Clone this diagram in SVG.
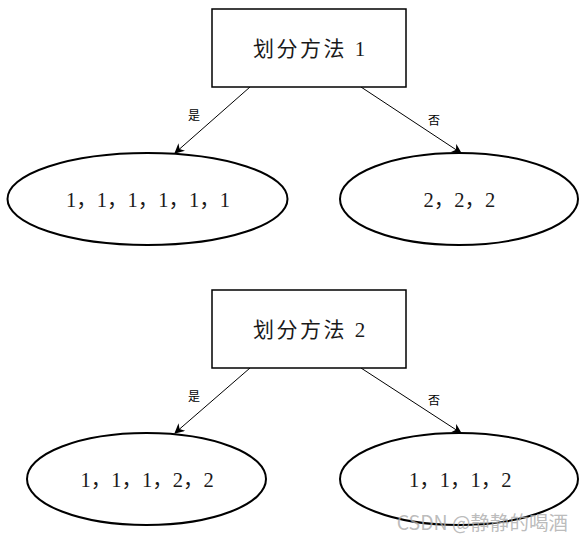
<svg xmlns="http://www.w3.org/2000/svg" width="583" height="540" viewBox="0 0 583 540">
<style>
.box{fill:#fff;stroke:#000;stroke-width:1.5}
.ell{fill:#fff;stroke:#000;stroke-width:2}
.t{font-family:"Liberation Serif","Noto Sans CJK SC",serif;fill:#1a1a1a}
.v{font-size:20.5px}
.title{font-size:21px;letter-spacing:2.5px}
.lbl{font-family:"Liberation Serif","Noto Sans CJK SC",serif;font-size:12px;fill:#000;text-anchor:middle;dominant-baseline:central}
.edge{stroke:#000;stroke-width:1;fill:none;marker-end:url(#arr)}
</style>
<defs>
<marker id="arr" viewBox="0 0 10 10" refX="9" refY="5" markerWidth="10" markerHeight="10" markerUnits="userSpaceOnUse" orient="auto">
<path d="M0,0 L10,5 L0,10 L3,5 Z" fill="#000"/>
</marker>
</defs>
<g id="connectors">
<line class="edge" x1="250" y1="87" x2="175" y2="153"/>
<line class="edge" x1="361" y1="87" x2="461" y2="153"/>
<line class="edge" x1="250" y1="368" x2="175" y2="433"/>
<line class="edge" x1="361" y1="368" x2="461" y2="433"/>
<text class="lbl" x="194" y="116">是</text>
<text class="lbl" x="434" y="121">否</text>
<text class="lbl" x="194" y="397">是</text>
<text class="lbl" x="434" y="401">否</text>
</g>
<g id="method1">
<rect class="box" x="212" y="9" width="194" height="78"/>
<text class="t title" x="253" y="55.5">划分方法 1</text>
</g>
<g id="m1yes">
<ellipse class="ell" cx="147.5" cy="199" rx="140" ry="46"/>
<text class="t v" x="66" y="206.5">1，1，1，1，1，1</text>
</g>
<g id="m1no">
<ellipse class="ell" cx="459" cy="199" rx="119" ry="46"/>
<text class="t v" x="423.5" y="206.5">2，2，2</text>
</g>
<g id="method2">
<rect class="box" x="212" y="290" width="194" height="78"/>
<text class="t title" x="253" y="336.5">划分方法 2</text>
</g>
<g id="m2yes">
<ellipse class="ell" cx="146.5" cy="479" rx="119.5" ry="46"/>
<text class="t v" x="80.5" y="486.5">1，1，1，2，2</text>
</g>
<g id="m2no">
<ellipse class="ell" cx="459" cy="479" rx="119" ry="46"/>
<text class="t v" x="409" y="486.5">1，1，1，2</text>
</g>
<text x="568" y="521" font-family="'Noto Sans CJK SC','Liberation Sans',sans-serif" font-size="19.5" fill="#aaa" fill-opacity="0.8" text-anchor="end" dominant-baseline="central">CSDN @静静的喝酒</text>
</svg>
